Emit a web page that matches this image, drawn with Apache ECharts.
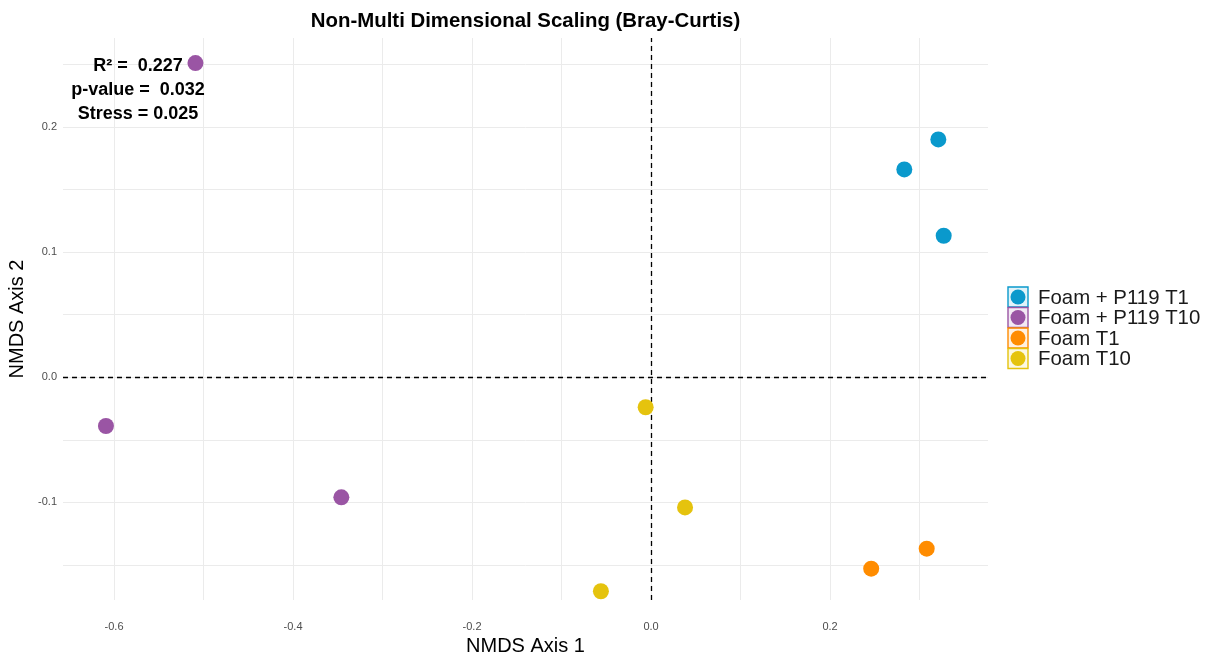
<!DOCTYPE html>
<html>
<head>
<meta charset="utf-8">
<script src="https://cdn.jsdelivr.net/npm/echarts@6/dist/echarts.min.js"></script>
<style>
  html, body { margin: 0; padding: 0; background: #ffffff; }
  #chart { width: 1213px; height: 654px; }
</style>
</head>
<body>
<div id="chart"></div>
<script>
// NMDS ordination (Bray-Curtis): sample coordinates per group
const groups = ['Foam + P119 T1', 'Foam + P119 T10', 'Foam T1', 'Foam T10'];
const colors = ['#0a99cc', '#9a55a4', '#ff8c00', '#e5c30e'];

const foamP119T1  = [[0.321, 0.190], [0.283, 0.166], [0.327, 0.113]];
const foamP119T10 = [[-0.509, 0.251], [-0.609, -0.039], [-0.346, -0.096]];
const foamT1      = [[0.308, -0.137], [0.246, -0.153]];
const foamT10     = [[-0.006, -0.024], [0.038, -0.104], [-0.056, -0.171]];
const seriesData = [foamP119T1, foamP119T10, foamT1, foamT10];

// Axis ticks / grid lines
const xGridValues = [-0.6, -0.5, -0.4, -0.3, -0.2, -0.1, 0, 0.1, 0.2, 0.3];
const xLabelValues = [-0.6, -0.4, -0.2, 0, 0.2];
const yGridValues = [-0.15, -0.1, -0.05, 0, 0.05, 0.1, 0.15, 0.2, 0.25];
const yLabelValues = [-0.1, 0, 0.1, 0.2];

// Fit statistics
const statLines = ['R\u00B2 =  0.227', 'p-value =  0.032', 'Stress = 0.025'];

const FONT = '"Liberation Sans", Arial, Helvetica, sans-serif';
const chart = echarts.init(document.getElementById('chart'), null, { renderer: 'canvas' });

const gridRect = { left: 63, top: 38, width: 925, height: 562, outerBoundsMode: 'none', containLabel: false };

const series = groups.map((name, i) => ({
  name,
  type: 'scatter',
  data: seriesData[i],
  symbolSize: 16,
  itemStyle: { color: colors[i], opacity: 1 },
  z: 5
}));

// Dashed reference lines through the origin
series.push({
  type: 'scatter',
  data: [],
  silent: true,
  markLine: {
    silent: true,
    symbol: 'none',
    label: { show: false },
    lineStyle: { color: '#000', type: [5, 4], width: 1.3 },
    data: [{ xAxis: 0 }, { yAxis: 0 }]
  },
  z: 3
});

// Legend drawn as keyed boxes
const legendGraphics = [];
const legendX = 1008, legendY0 = 297, legendStep = 20.5;
groups.forEach((name, i) => {
  const cy = legendY0 + i * legendStep;
  legendGraphics.push({
    type: 'rect',
    shape: { x: legendX, y: cy - 10, width: 20, height: 20 },
    style: { fill: echarts.color.modifyAlpha(colors[i], 0.12), stroke: colors[i], lineWidth: 1.4 }
  });
  legendGraphics.push({
    type: 'circle',
    shape: { cx: legendX + 10, cy: cy, r: 7.5 },
    style: { fill: colors[i] }
  });
  legendGraphics.push({
    type: 'text',
    x: legendX + 30,
    y: cy + 1,
    style: { text: name, fill: '#1a1a1a', font: '20.4px ' + FONT, verticalAlign: 'middle', textAlign: 'left' }
  });
});

const statGraphics = statLines.map((t, i) => ({
  type: 'text',
  x: 138,
  y: 66 + i * 24,
  style: { text: t, fill: '#000', font: 'bold 18px ' + FONT, textAlign: 'center', verticalAlign: 'middle' },
  z: 10
}));

chart.setOption({
  backgroundColor: '#ffffff',
  animation: false,
  title: {
    text: 'Non-Multi Dimensional Scaling (Bray-Curtis)',
    left: gridRect.left + gridRect.width / 2 - 5,
    top: 6,
    textAlign: 'center',
    textStyle: { fontFamily: FONT, fontWeight: 'bold', fontSize: 20.4, color: '#000' }
  },
  grid: gridRect,
  xAxis: {
    type: 'value',
    min: -0.657,
    max: 0.3765,
    name: 'NMDS Axis 1',
    nameLocation: 'middle',
    nameGap: 36,
    nameTextStyle: { fontFamily: FONT, fontSize: 20, color: '#000' },
    axisLine: { show: false },
    axisTick: { show: false, customValues: xGridValues },
    axisLabel: {
      customValues: xLabelValues,
      formatter: v => v.toFixed(1),
      color: '#4d4d4d',
      fontFamily: FONT,
      fontSize: 11,
      margin: 21
    },
    splitLine: { show: true, lineStyle: { color: '#ebebeb', width: 1 } }
  },
  yAxis: {
    type: 'value',
    min: -0.178,
    max: 0.271,
    name: 'NMDS Axis 2',
    nameLocation: 'middle',
    nameGap: 31,
    nameRotate: 90,
    nameTextStyle: { fontFamily: FONT, fontSize: 20, color: '#000' },
    axisLine: { show: false },
    axisTick: { show: false, customValues: yGridValues },
    axisLabel: {
      customValues: yLabelValues,
      formatter: v => v.toFixed(1),
      color: '#4d4d4d',
      fontFamily: FONT,
      fontSize: 11,
      margin: 6
    },
    splitLine: { show: true, lineStyle: { color: '#ebebeb', width: 1 } }
  },
  legend: { show: false },
  graphic: legendGraphics.concat(statGraphics),
  series
});
</script>
</body>
</html>
